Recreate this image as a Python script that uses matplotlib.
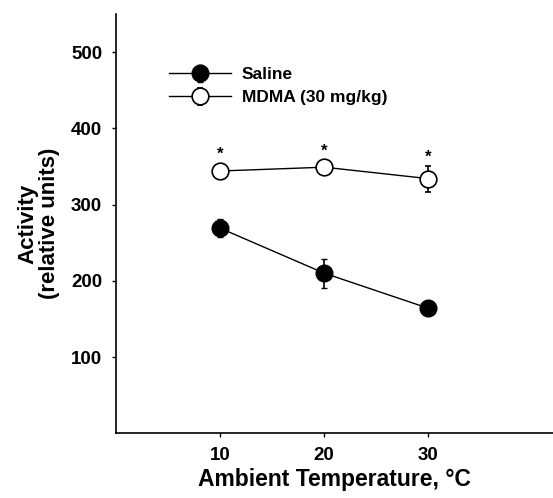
import numpy as np
import matplotlib
matplotlib.use("Agg")
import matplotlib.pyplot as plt

plt.rcParams['font.family'] = ['Liberation Sans', 'DejaVu Sans']
plt.rcParams['font.weight'] = 'bold'

temps = [10, 20, 30]
saline = [269, 210, 164]
saline_err = [12, 19, 0]
mdma = [344, 349, 334]
mdma_err = [9, 0, 17]
star_y = [366, 370, 362]

fig = plt.figure(figsize=(5.53, 4.98), dpi=100)
ax = fig.add_axes([0.21, 0.13, 0.79, 0.842])

ax.errorbar(temps, saline, yerr=saline_err, color='black', marker='o', markersize=12,
            markerfacecolor='black', markeredgecolor='black', lw=1, elinewidth=1.2, capsize=2.5,
            label='Saline')
ax.errorbar(temps, mdma, yerr=mdma_err, color='black', marker='o', markersize=12,
            markerfacecolor='white', markeredgecolor='black', markeredgewidth=1.2, lw=1,
            elinewidth=1.2, capsize=2.5, label='MDMA (30 mg/kg)')
for t, s in zip(temps, star_y):
    ax.text(t, s, '*', ha='center', va='center', fontsize=12, fontweight='bold')

ax.set_xlim(0, 42)
ax.set_ylim(0, 550)
ax.set_xticks(temps)
ax.set_yticks([100, 200, 300, 400, 500])
ax.tick_params(labelsize=13.5, length=3, width=1, pad=7)
for sp in ['top', 'right']:
    ax.spines[sp].set_visible(False)
ax.spines['left'].set_linewidth(1.2)
ax.spines['bottom'].set_linewidth(1.2)

ax.set_xlabel('Ambient Temperature, °C', fontsize=16.5, fontweight='bold', labelpad=3)
ax.set_ylabel('Activity\n(relative units)', fontsize=16, fontweight='bold', labelpad=8,
              linespacing=1.05)

leg = ax.legend(loc='upper left', bbox_to_anchor=(0.085, 0.91), frameon=False, fontsize=12.5,
                handlelength=3.6, handletextpad=0.6, labelspacing=0.45)

fig.savefig('out.png', dpi=100)
